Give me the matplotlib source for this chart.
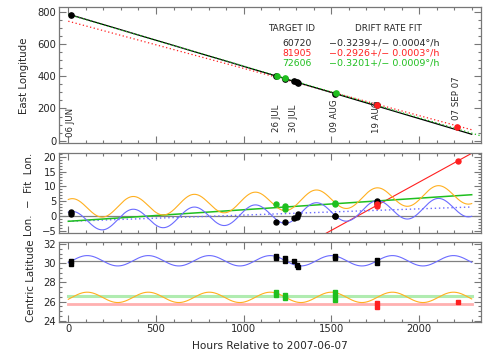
import numpy as np
import matplotlib
matplotlib.use("Agg")
import matplotlib.pyplot as plt
from matplotlib.ticker import MultipleLocator

# ---- data ----
# top panel: east longitude of each target
blk_hours = [14, 1185, 1235, 1285, 1302, 1311, 1522, 1762]
blk_lon = [780, 399, 383, 368, 363, 360, 291, 220]
grn_hours = [1188, 1237, 1524]
grn_lon = [403, 389, 295]
red_hours = [1758, 2218]
red_lon = [221, 85]

# drift-rate fits (intercept at hour 0, slope deg/h)
blk_fit = (785.0, -0.3239)
red_fit = (741.0, -0.2926)
grn_fit = (783.0, -0.3201)

# date labels: hour, text, bottom of label (longitude)
date_hours = [14, 1188, 1285, 1520, 1758, 2214]
date_text = ["06 JUN", "26 JUL", "30 JUL", "09 AUG", "19 AUG", "07 SEP 07"]
date_ybot = [22, 52, 52, 52, 50, 128]

target_ids = ["60720", "81905", "72606"]
drift_text = ["\u22120.3239+/\u2212 0.0004\u00b0/h",
              "\u22120.2926+/\u2212 0.0003\u00b0/h",
              "\u22120.3201+/\u2212 0.0009\u00b0/h"]

# middle panel: longitude residuals from the 60720 fit
res_blk_hours = [14, 14, 1185, 1235, 1285, 1302, 1311, 1522, 1522, 1762, 1762]
res_blk = [1.4, 0.6, -1.9, -2.1, -0.8, -0.2, 0.5, 0.1, -0.1, 5.1, 4.4]
res_grn_hours = [1185, 1235, 1235, 1522, 1522]
res_grn = [4.0, 3.2, 2.5, 4.5, 4.1]
res_red_hours = [1762, 1762, 2220]
res_red = [3.9, 3.4, 18.6]
# residual lines: (value at hour 0, slope per hour)
res_red_line = (-53.6, 0.0325)
res_grn_line = (-1.8, 0.0039)
res_blue_mean = (-1.8, 0.0021)
res_orange_mean = (2.5, 0.0021)
res_amp = 3.3
res_tmax = 369.0

# bottom panel: centric latitude
lat_blk_hours = [14, 14, 1185, 1185, 1235, 1235, 1285, 1302, 1311, 1522, 1522, 1762, 1762]
lat_blk = [30.2, 29.9, 30.8, 30.5, 30.6, 30.2, 30.2, 29.8, 29.6, 30.8, 30.6, 30.35, 30.0]
lat_grn_hours = [1185, 1185, 1235, 1235, 1522, 1522, 1522]
lat_grn = [27.0, 26.7, 26.7, 26.4, 27.0, 26.6, 26.2]
lat_red_hours = [1762, 1762, 2220]
lat_red = [25.8, 25.4, 26.0]
lat_gray, lat_green, lat_pink = 30.2, 26.6, 25.73
lat_blue_mean, lat_orange_mean, lat_amp = 30.26, 26.44, 0.54
lat_tmax = 108.0

period = 348.0
t_end = 2300.0

# ---- styling ----
ORANGE = "#ffb020"
BLUE = "#6b6bff"
GREEN = "#1fbf1f"
RED = "#ff2020"
FRAME = "#777777"
TXT = "#262626"

plt.rcParams["font.family"] = ["DejaVu Sans"]

fig = plt.figure(figsize=(4.91, 3.51), dpi=100)
W, H = 491.0, 351.0


def panel(top, bottom):
    return fig.add_axes([59 / W, 1 - bottom / H, 422 / W, (bottom - top) / H])


ax1 = panel(6.7, 143.3)
ax2 = panel(153.3, 233.3)
ax3 = panel(241.7, 321.7)

t = np.linspace(0, t_end, 800)

# top panel
bx = np.array([0, t_end])
ax1.plot(bx, red_fit[0] + red_fit[1] * bx, color=RED, lw=0.9, ls=(0, (1, 2)))
ax1.plot([14, t_end], blk_fit[0] + blk_fit[1] * np.array([14, t_end]), color="black", lw=0.9)
ax1.plot(bx + [0, 50], grn_fit[0] + grn_fit[1] * (bx + [0, 50]), color=GREEN, lw=0.9, ls=(0, (1, 2)))
ax1.plot(blk_hours, blk_lon, "o", color="black", ms=3.8, zorder=5)
ax1.plot(grn_hours, grn_lon, "o", color=GREEN, ms=3.8, zorder=6)
ax1.plot(red_hours, red_lon, "o", color=RED, ms=3.8, zorder=6)
for h, s, yb in zip(date_hours, date_text, date_ybot):
    ax1.text(h, yb, s, rotation=90, ha="center", va="bottom", fontsize=6.2, color=TXT)

fig.text(268 / W, 1 - 28.5 / H, "TARGET ID", fontsize=6.4, color=TXT, va="center")
fig.text(355 / W, 1 - 28.5 / H, "DRIFT RATE FIT", fontsize=6.4, color=TXT, va="center")
for i, (tid, dr, c) in enumerate(zip(target_ids, drift_text, [TXT, RED, GREEN])):
    yy = 1 - (43 + 10 * i) / H
    fig.text(282 / W, yy, tid, fontsize=6.7, color=c, va="center")
    fig.text(329 / W, yy, dr, fontsize=6.8, color=c, va="center")

ax1.set_ylim(-16, 831)
ax1.yaxis.set_major_locator(MultipleLocator(200))
ax1.yaxis.set_minor_locator(MultipleLocator(50))

# middle panel
ax2.axhline(0, color="#808080", lw=0.9, xmin=0, xmax=1)
ax2.plot(t, res_red_line[0] + res_red_line[1] * t, color=RED, lw=0.8)
ax2.plot(t, res_blue_mean[0] + res_blue_mean[1] * t, color=BLUE, lw=1.0, ls=(0, (1, 2)))
ax2.plot(t, res_grn_line[0] + res_grn_line[1] * t, color=GREEN, lw=1.1)
phase = np.cos(2 * np.pi * (t - res_tmax) / period)
ax2.plot(t, res_orange_mean[0] + res_orange_mean[1] * t + res_amp * phase, color=ORANGE, lw=0.8)
ax2.plot(t, res_blue_mean[0] + res_blue_mean[1] * t + res_amp * phase, color=BLUE, lw=0.8)
ax2.plot(res_blk_hours, res_blk, "o", color="black", ms=3.6, zorder=5)
ax2.plot(res_grn_hours, res_grn, "o", color=GREEN, ms=3.6, zorder=5)
ax2.plot(res_red_hours, res_red, "o", color=RED, ms=3.6, zorder=5)
ax2.set_ylim(-5.85, 21.15)
ax2.yaxis.set_major_locator(MultipleLocator(5))
ax2.yaxis.set_minor_locator(MultipleLocator(1))

# bottom panel
ax3.plot([0, t_end], [lat_green] * 2, color="#b0ecb0", lw=2.2)
ax3.plot([0, t_end], [lat_pink] * 2, color="#ffb0b0", lw=2.0)
ax3.plot([0, t_end], [lat_gray] * 2, color="#808080", lw=0.9)
lphase = np.cos(2 * np.pi * (t - lat_tmax) / period)
ax3.plot(t, lat_blue_mean + lat_amp * lphase, color=BLUE, lw=0.8)
ax3.plot(t, lat_orange_mean + lat_amp * lphase, color=ORANGE, lw=0.8)
for hh, vv, c in [(lat_blk_hours, lat_blk, "black"), (lat_grn_hours, lat_grn, GREEN),
                  (lat_red_hours, lat_red, RED)]:
    ax3.errorbar(hh, vv, yerr=0.2, fmt="s", color=c, ms=3.2, elinewidth=2.6, capsize=0, zorder=5)
ax3.set_ylim(23.9, 32.25)
ax3.yaxis.set_major_locator(MultipleLocator(2))
ax3.yaxis.set_minor_locator(MultipleLocator(0.5))

for ax in (ax1, ax2, ax3):
    ax.set_xlim(-53, 2353)
    ax.xaxis.set_major_locator(MultipleLocator(500))
    ax.xaxis.set_minor_locator(MultipleLocator(100))
    ax.tick_params(which="both", direction="in", top=True, right=True, color=FRAME,
                   labelsize=7.2, labelcolor=TXT, width=0.8, pad=2)
    ax.tick_params(which="major", length=5)
    ax.tick_params(which="minor", length=2.5)
    for sp in ax.spines.values():
        sp.set_color(FRAME)
        sp.set_linewidth(0.9)
for ax in (ax1, ax2):
    ax.tick_params(labelbottom=False)

fig.text(24.5 / W, 1 - 75.5 / H, "East Longitude", rotation=90, ha="center", va="center",
         fontsize=7.4, color=TXT)
fig.text(29.5 / W, 1 - 194 / H, "Lon.  \u2212  Fit  Lon.", rotation=90, ha="center", va="center",
         fontsize=7.4, color=TXT)
fig.text(31 / W, 1 - 281 / H, "Centric Latitude", rotation=90, ha="center", va="center",
         fontsize=7.4, color=TXT)
fig.text(270 / W, 1 - 346 / H, "Hours Relative to 2007-06-07", ha="center", va="center",
         fontsize=7.6, color=TXT)

fig.savefig("out.png", dpi=100)
